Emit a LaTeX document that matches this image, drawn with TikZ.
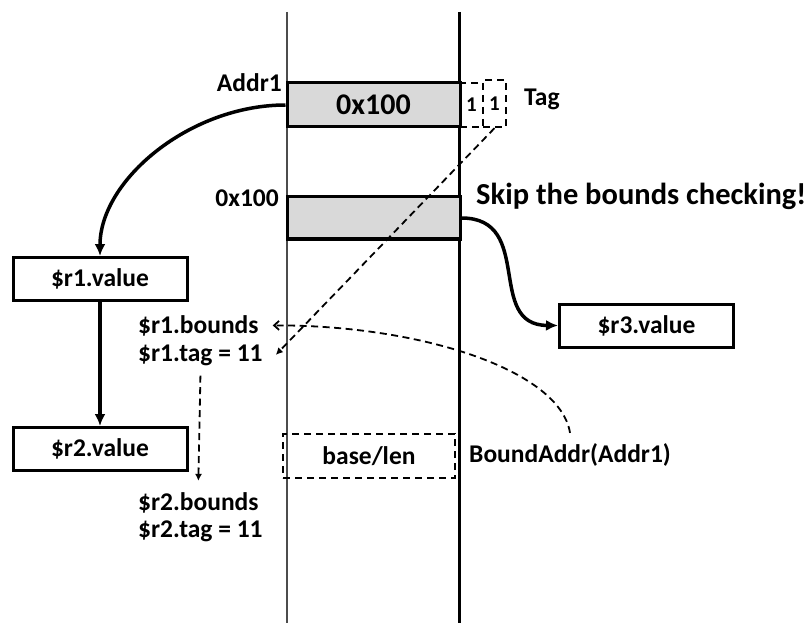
\documentclass[tikz,border=0pt]{standalone}
\usepackage{fontspec}
\setmainfont{Carlito}
\usetikzlibrary{arrows.meta}
\definecolor{boxgray}{HTML}{D9D9D9}
\begin{document}
\begin{tikzpicture}[x=1pt,y=-1pt,
  lbl/.style={font=\fontsize{25.5}{30}\selectfont\bfseries, inner sep=0pt},
  biglbl/.style={font=\fontsize{30.5}{36}\selectfont\bfseries, inner sep=0pt},
  membox/.style={draw, line width=3pt, fill=boxgray, minimum width=173pt, minimum height=44pt, inner sep=0pt},
  valbox/.style={draw, line width=3pt, minimum width=174pt, minimum height=43pt, inner sep=0pt, font=\fontsize{25.5}{30}\selectfont\bfseries},
  dbox/.style={draw, dash pattern=on 7pt off 5pt, line width=2.3pt, inner sep=0pt},
  thickarrow/.style={line width=3.5pt, -{Latex[length=12pt,width=11pt]}},
  dasharrow/.style={line width=1.8pt, dash pattern=on 7pt off 4.5pt, -{Latex[length=7pt,width=7pt]}},
  openarrow/.style={line width=1.8pt, dash pattern=on 7pt off 4.5pt, -{Straight Barb[length=5pt,width=9pt]}},
]
\useasboundingbox (0,0) rectangle (812,623);
% memory column lines
\coordinate (lt) at (287,12); \coordinate (lb) at (287,623);
\coordinate (rt) at (459.5,12); \coordinate (rb) at (459.5,623);
\draw[line width=1.5pt, black!70] (lt) -- (lb);
\draw[line width=2.5pt] (rt) -- (rb);
% memory cells
\node[membox, font=\fontsize{30}{36}\selectfont\bfseries] (mem1) at (373.5,105) {0x100};
\node[membox, minimum height=42pt] (mem2) at (373.5,218) {};
\node[dbox, minimum width=23pt, minimum height=44pt, font=\fontsize{21}{24}\selectfont\bfseries] (tag1) at (471.5,105) {1};
\node[dbox, minimum width=23pt, minimum height=47pt, font=\fontsize{21}{24}\selectfont\bfseries] (tag2) at (494.5,103.5) {1};
\node[dbox, minimum width=172pt, minimum height=44pt, font=\fontsize{25.5}{30}\selectfont\bfseries] (bl) at (369,456) {base/len};
% labels
\node[lbl, anchor=base east] (addr1) at (282,92) {Addr1};
\node[lbl, anchor=base west] (tag) at (524,106) {Tag};
\node[lbl, anchor=base east] (addr2) at (279,207) {0x100};
\node[biglbl, anchor=base west] (skip) at (476,205) {Skip the bounds checking!};
\node[lbl, anchor=base west] (ba) at (469,462) {BoundAddr(Addr1)};
% registers
\node[valbox] (r1v) at (100,279) {\$r1.value};
\node[valbox] (r2v) at (100,449) {\$r2.value};
\node[valbox] (r3v) at (646.5,325.5) {\$r3.value};
\node[lbl, anchor=base west] (r1b) at (138,333) {\$r1.bounds};
\node[lbl, anchor=base west] (r1t) at (138,361) {\$r1.tag = 11};
\node[lbl, anchor=base west] (r2b) at (138,510) {\$r2.bounds};
\node[lbl, anchor=base west] (r2t) at (138,537) {\$r2.tag = 11};
% connectors
\draw[thickarrow] (mem1.west) .. controls (190,105) and (100,180) .. (r1v.north);
\draw[thickarrow] (r1v.south) -- (r2v.north);
\draw[thickarrow] (mem2.east) .. controls (535,218) and (485,325) .. (r3v.west);
\draw[dasharrow] (tag2.south) -- ([xshift=13pt]r1t.east);
\draw[openarrow] ([yshift=10pt]ba.north) .. controls (560,370) and (420,325) .. ([xshift=14pt]r1b.east);
\draw[dasharrow] ([yshift=-10pt]r1t.south) -- ([yshift=11pt]r2b.north);
\end{tikzpicture}
\end{document}
